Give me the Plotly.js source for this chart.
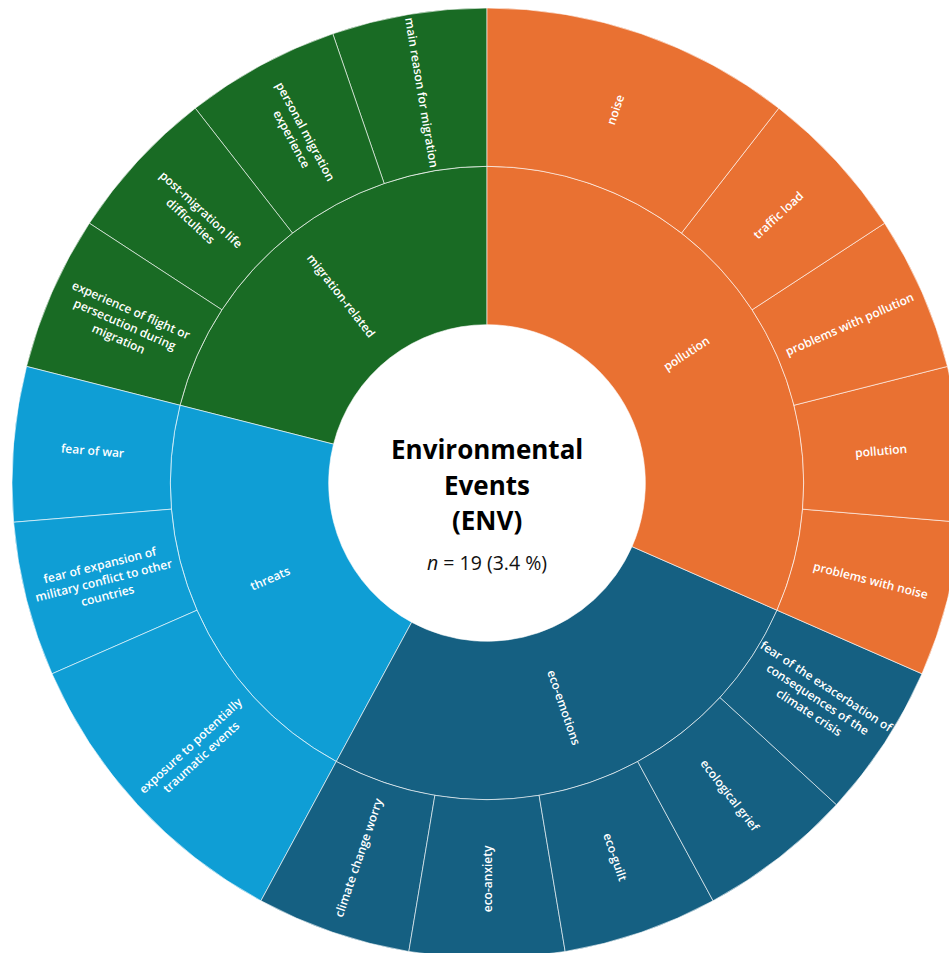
<!DOCTYPE html>
<html>
<head>
<meta charset="utf-8">
<script src="https://cdn.plot.ly/plotly-3.0.1.min.js"></script>
<style>
html, body { margin:0; padding:0; overflow:hidden; background:#fff; }
#chart { width:975px; height:960px; }
</style>
</head>
<body>
<div id="chart"></div>
<script>
// Sunburst hierarchy (counts; total n = 19)
const ids = [
  "ENV",
  "migration-related", "threats", "eco-emotions", "pollution",
  "m1", "m2", "m3", "m4",
  "t1", "t2", "t3",
  "e1", "e2", "e3", "e4", "e5",
  "p1", "p2", "p3", "p4", "p5"
];
const labels = [
  "Environmental Events (ENV)",
  "migration-related", "threats", "eco-emotions", "pollution",
  "main reason for migration", "personal migration<br>experience", "post-migration life<br>difficulties", "experience of flight or<br>persecution during<br>migration",
  "fear of war", "fear of expansion of<br>military conflict to other<br>countries", "exposure to potentially<br>traumatic events",
  "climate change worry", "eco-anxiety", "eco-guilt", "ecological grief", "fear of the exacerbation of<br>consequences of the<br>climate crisis",
  "problems with noise", "pollution", "problems with pollution", "traffic load", "noise"
];
const parents = [
  "",
  "ENV", "ENV", "ENV", "ENV",
  "migration-related", "migration-related", "migration-related", "migration-related",
  "threats", "threats", "threats",
  "eco-emotions", "eco-emotions", "eco-emotions", "eco-emotions", "eco-emotions",
  "pollution", "pollution", "pollution", "pollution", "pollution"
];
const values = [
  19,
  4, 4, 5, 6,
  1, 1, 1, 1,
  1, 1, 2,
  1, 1, 1, 1, 1,
  1, 1, 1, 1, 2
];
const groupColors = {
  "ENV": "#ffffff",
  "migration-related": "#196B24",
  "threats": "#0F9ED5",
  "eco-emotions": "#156082",
  "pollution": "#E97132"
};
const centerLines = ["<b>Environmental</b>", "<b>Events</b>", "<b>(ENV)</b>"];
const centerSub = "<i>n</i> = 19 (3.4 %)";

// ---- geometry of the plot (layout) ----
const W = 975, H = 960;
const M = { l: 12, r: 13, t: 8, b: 2 };
const plotW = W - M.l - M.r, plotH = H - M.t - M.b;
const R = Math.min(plotW, plotH) / 2;
const cx = M.l + plotW / 2, cy = M.t + plotH / 2;
const ROT = 90; // first slice starts at 12 o'clock, counterclockwise

const colors = ids.map((id, i) => groupColors[id] || groupColors[parents[i]]);
const texts = labels.map((l, i) => i === 0 ? "" : l);

// compute angular spans from values (counterclockwise from 12 o'clock, data order)
const total = values[0];
const startOf = {}, depthOf = {};
startOf["ENV"] = 0; depthOf["ENV"] = 0;
const cursor = { "ENV": 0 };
const labelAnnotations = [];
ids.forEach((id, i) => {
  if (i === 0) return;
  const p = parents[i];
  if (cursor[p] === undefined) cursor[p] = startOf[p];
  const a0 = cursor[p];
  const a1 = a0 + values[i] / total * 360;
  cursor[p] = a1;
  startOf[id] = a0;
  depthOf[id] = depthOf[p] + 1;
  // clockwise-from-top angles
  const cw0 = 360 - a1, cw1 = 360 - a0;
  const crosses = (cw0 < 90 && cw1 > 90) || (cw0 < 270 && cw1 > 270);
  if (crosses) {
    // Plotly would draw this label horizontally; draw it radially at the mid angle instead
    const th = (cw0 + cw1) / 2 * Math.PI / 180;
    const r = (depthOf[id] + 0.5) * R / 3;
    const px = cx + r * Math.sin(th), py = cy - r * Math.cos(th);
    let ang = Math.atan2(Math.cos(th), Math.sin(th)) * 180 / Math.PI;
    if (ang > 90) ang -= 180;
    if (ang <= -90) ang += 180;
    labelAnnotations.push({
      text: labels[i], x: (px - M.l) / plotW, y: 1 - (py - M.t) / plotH,
      xref: "paper", yref: "paper", xanchor: "center", yanchor: "middle",
      showarrow: false, textangle: -ang,
      font: { family: "Open Sans", size: 12, color: "#ffffff", weight: 600 }
    });
    texts[i] = "";
  }
});

const trace = {
  type: "sunburst",
  ids: ids,
  labels: labels,
  parents: parents,
  values: values,
  text: texts,
  texttemplate: "%{text}",
  branchvalues: "total",
  sort: false,
  rotation: ROT,
  marker: { colors: colors, line: { color: "rgba(255,255,255,0.75)", width: 0.8 } },
  insidetextorientation: "radial",
  insidetextfont: { family: "Open Sans", size: 12, color: "#ffffff", weight: 600 },
  hoverinfo: "label+value",
  leaf: { opacity: 1 }
};

const centerY = [449, 485, 520];
const centerAnn = centerLines.map((t, k) => ({
  text: t, x: (cx - M.l) / plotW, y: 1 - (centerY[k] - M.t) / plotH,
  xref: "paper", yref: "paper", xanchor: "center", yanchor: "middle", showarrow: false,
  font: { family: "Open Sans", size: 26, color: "#000000" }
}));
centerAnn.push({
  text: centerSub, x: (cx - M.l) / plotW, y: 1 - (562 - M.t) / plotH,
  xref: "paper", yref: "paper", xanchor: "center", yanchor: "middle", showarrow: false,
  font: { family: "Open Sans", size: 19.5, color: "#111111" }
});

const layout = {
  width: W,
  height: H,
  margin: M,
  paper_bgcolor: "#ffffff",
  showlegend: false,
  annotations: centerAnn.concat(labelAnnotations)
};

Plotly.newPlot("chart", [trace], layout, { displayModeBar: false, staticPlot: true });
</script>
</body>
</html>
